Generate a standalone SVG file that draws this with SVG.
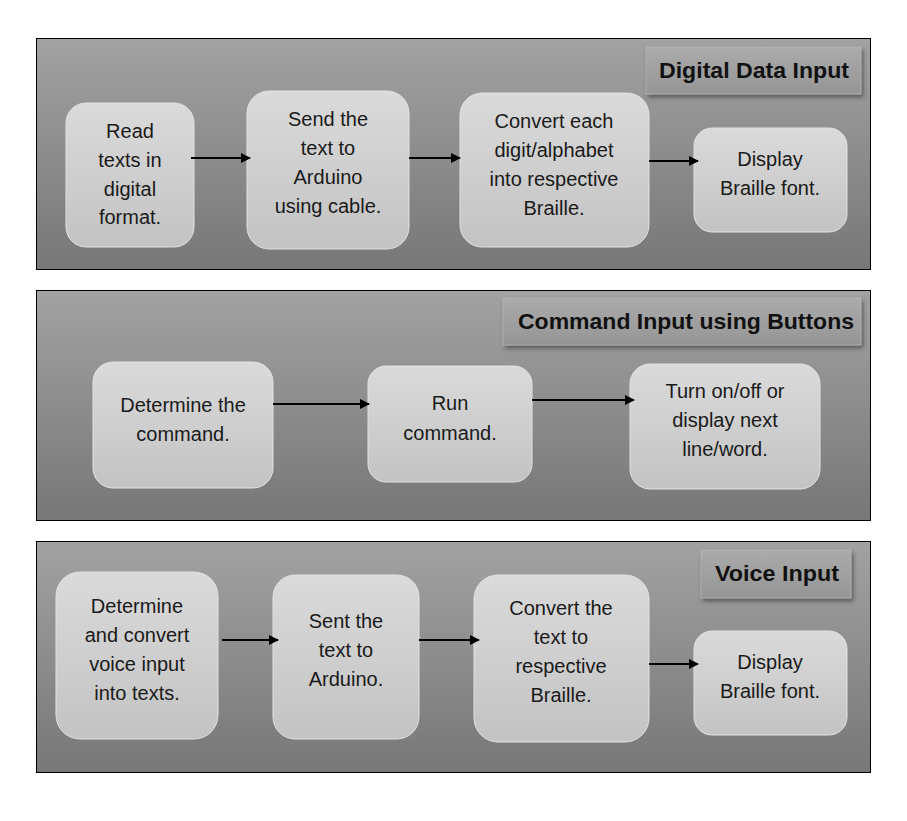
<svg xmlns="http://www.w3.org/2000/svg" width="907" height="821" viewBox="0 0 907 821">
<defs>
<linearGradient id="panelG" x1="0" y1="0" x2="0" y2="1">
<stop offset="0" stop-color="#a2a2a2"/>
<stop offset="1" stop-color="#777777"/>
</linearGradient>
<linearGradient id="nodeG" x1="0" y1="0" x2="0" y2="1">
<stop offset="0" stop-color="#dadada"/>
<stop offset="1" stop-color="#c3c3c3"/>
</linearGradient>
<linearGradient id="headG" x1="0" y1="0" x2="0" y2="1">
<stop offset="0" stop-color="#ababab"/>
<stop offset="1" stop-color="#959595"/>
</linearGradient>
<filter id="sh" x="-10%" y="-20%" width="130%" height="160%">
<feDropShadow dx="2" dy="3" stdDeviation="2" flood-color="#333" flood-opacity="0.6"/>
</filter>
<marker id="arr" viewBox="0 0 10 10" refX="9" refY="5" markerWidth="5" markerHeight="5" orient="auto" markerUnits="strokeWidth">
<path d="M0,0 L10,5 L0,10 z" fill="#000"/>
</marker>
</defs>
<style>
.panel{fill:url(#panelG);stroke:#000;stroke-width:1}
.node{fill:url(#nodeG);stroke:#e2e2e2;stroke-width:1}
.head{fill:url(#headG);stroke:#b5b5b5;stroke-width:0.8;filter:url(#sh)}
.t{font-family:"Liberation Sans",Arial,sans-serif;font-size:20px;fill:#1a1a1a;text-anchor:middle}
.h{font-family:"Liberation Sans",Arial,sans-serif;font-size:22px;font-weight:bold;fill:#111;text-anchor:middle}
.c{stroke:#000;stroke-width:2;fill:none;marker-end:url(#arr)}
</style>
<rect width="907" height="821" fill="#fff"/>

<g id="panel1">
<rect class="panel" x="36.5" y="38.5" width="834" height="231"/>
<g id="head1"><rect class="head" x="646" y="47" width="215" height="47"/><text class="h" x="754" y="78" textLength="190" lengthAdjust="spacingAndGlyphs">Digital Data Input</text></g>
</g>
<g id="panel2">
<rect class="panel" x="36.5" y="290.5" width="834" height="230"/>
<g id="head2"><rect class="head" x="503" y="298" width="358" height="47"/><text class="h" x="686" y="329" textLength="336" lengthAdjust="spacingAndGlyphs">Command Input using Buttons</text></g>
</g>
<g id="panel3">
<rect class="panel" x="36.5" y="541.5" width="834" height="231"/>
<g id="head3"><rect class="head" x="701" y="550" width="150" height="48"/><text class="h" x="777" y="581" textLength="124" lengthAdjust="spacingAndGlyphs">Voice Input</text></g>
</g>

<g id="n1"><rect class="node" x="66" y="103" width="128" height="144" rx="20"/>
<text class="t" x="130"><tspan x="130" y="138">Read</tspan><tspan x="130" y="167">texts in</tspan><tspan x="130" y="196">digital</tspan><tspan x="130" y="224">format.</tspan></text></g>
<g id="n2"><rect class="node" x="247" y="91" width="162" height="158" rx="22"/>
<text class="t"><tspan x="328" y="126">Send the</tspan><tspan x="328" y="155">text to</tspan><tspan x="328" y="184">Arduino</tspan><tspan x="328" y="213">using cable.</tspan></text></g>
<g id="n3"><rect class="node" x="460" y="93" width="189" height="154" rx="22"/>
<text class="t"><tspan x="554" y="128">Convert each</tspan><tspan x="554" y="157">digit/alphabet</tspan><tspan x="554" y="186">into respective</tspan><tspan x="554" y="215">Braille.</tspan></text></g>
<g id="n4"><rect class="node" x="694" y="128" width="153" height="104" rx="18"/>
<text class="t"><tspan x="770" y="166">Display</tspan><tspan x="770" y="195">Braille font.</tspan></text></g>

<g id="n5"><rect class="node" x="93" y="362" width="180" height="126" rx="20"/>
<text class="t"><tspan x="183" y="412">Determine the</tspan><tspan x="183" y="441">command.</tspan></text></g>
<g id="n6"><rect class="node" x="368" y="366" width="164" height="116" rx="18"/>
<text class="t"><tspan x="450" y="410">Run</tspan><tspan x="450" y="440">command.</tspan></text></g>
<g id="n7"><rect class="node" x="630" y="364" width="190" height="125" rx="20"/>
<text class="t"><tspan x="725" y="398">Turn on/off or</tspan><tspan x="725" y="427">display next</tspan><tspan x="725" y="456">line/word.</tspan></text></g>

<g id="n8"><rect class="node" x="56" y="572" width="162" height="167" rx="24"/>
<text class="t"><tspan x="137" y="613">Determine</tspan><tspan x="137" y="642">and convert</tspan><tspan x="137" y="671">voice input</tspan><tspan x="137" y="700">into texts.</tspan></text></g>
<g id="n9"><rect class="node" x="273" y="575" width="146" height="164" rx="22"/>
<text class="t"><tspan x="346" y="628">Sent the</tspan><tspan x="346" y="657">text to</tspan><tspan x="346" y="686">Arduino.</tspan></text></g>
<g id="n10"><rect class="node" x="474" y="575" width="175" height="167" rx="24"/>
<text class="t"><tspan x="561" y="615">Convert the</tspan><tspan x="561" y="644">text to</tspan><tspan x="561" y="673">respective</tspan><tspan x="561" y="702">Braille.</tspan></text></g>
<g id="n11"><rect class="node" x="694" y="631" width="153" height="104" rx="18"/>
<text class="t"><tspan x="770" y="669">Display</tspan><tspan x="770" y="698">Braille font.</tspan></text></g>

<g id="connectors">
<line class="c" x1="191" y1="158" x2="250" y2="158"/>
<line class="c" x1="409" y1="158" x2="460" y2="158"/>
<line class="c" x1="649" y1="161" x2="698" y2="161"/>
<line class="c" x1="273" y1="404" x2="369" y2="404"/>
<line class="c" x1="532" y1="400" x2="634" y2="400"/>
<line class="c" x1="222" y1="640" x2="278" y2="640"/>
<line class="c" x1="419" y1="640" x2="479" y2="640"/>
<line class="c" x1="649" y1="664" x2="698" y2="664"/>
</g>
</svg>
